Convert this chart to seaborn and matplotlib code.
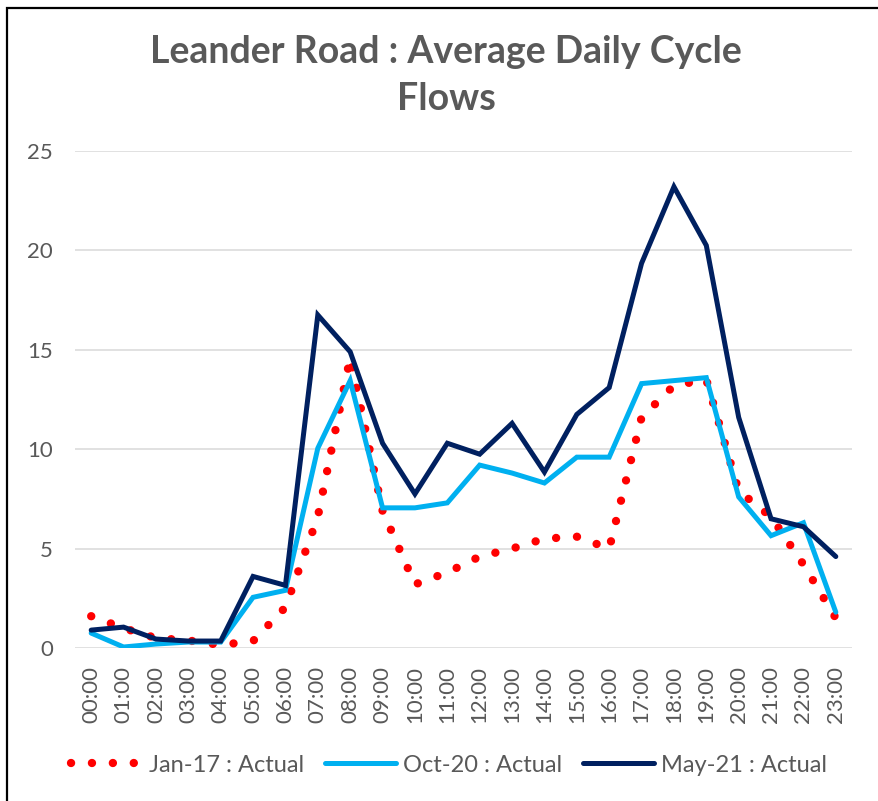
import matplotlib
matplotlib.use("Agg")
import matplotlib.pyplot as plt
from matplotlib.patches import Rectangle
import numpy as np
import pandas as pd
import seaborn as sns

hours = [f"{h:02d}:00" for h in range(24)]

jan17 = [1.6, 1.0, 0.5, 0.38, 0.15, 0.35, 2.05, 6.6, 14.6, 6.9, 3.2, 3.8,
         4.6, 5.0, 5.5, 5.6, 5.0, 11.6, 13.2, 13.5, 7.9, 6.6, 4.2, 1.5]
oct20 = [0.75, 0.05, 0.2, 0.3, 0.3, 2.55, 2.9, 10.05, 13.45, 7.05, 7.05, 7.3,
         9.2, 8.8, 8.3, 9.6, 9.6, 13.3, 13.45, 13.6, 7.6, 5.65, 6.3, 1.8]
may21 = [0.9, 1.05, 0.45, 0.35, 0.35, 3.6, 3.15, 16.75, 14.9, 10.3, 7.75, 10.3,
         9.75, 11.3, 8.85, 11.75, 13.1, 19.35, 23.2, 20.25, 11.6, 6.5, 6.1, 4.6]

series_names = ["Jan-17 : Actual", "Oct-20 : Actual", "May-21 : Actual"]
y_ticks = [0, 5, 10, 15, 20, 25]

sns.set_theme(style="white")
plt.rcParams["font.family"] = ["Lato", "DejaVu Sans"]

text_grey = "#595959"
grid_grey = "#D9D9D9"

fig = plt.figure(figsize=(8.79, 8.01), dpi=100)
ax = fig.add_axes([75 / 879, 1 - 648 / 801, (852 - 75) / 879, (648 - 151) / 801])

df = pd.DataFrame({"hour": hours, "jan17": jan17, "oct20": oct20, "may21": may21})
x = np.arange(len(hours))

sns.lineplot(x=x, y=df["jan17"], ax=ax, color="#FF0000", linewidth=6,
             linestyle=(0, (0.01, 2.5)), dash_capstyle="round",
             label=series_names[0])
sns.lineplot(x=x, y=df["oct20"], ax=ax, color="#00B0F0", linewidth=3.6,
             solid_joinstyle="miter", label=series_names[1])
sns.lineplot(x=x, y=df["may21"], ax=ax, color="#002060", linewidth=3.6,
             solid_joinstyle="miter", label=series_names[2])

ax.set_xlim(-0.5, len(hours) - 0.5)
ax.set_ylim(0, 25)
ax.set_yticks(y_ticks)
ax.set_yticklabels([str(v) for v in y_ticks])
ax.set_xticks(x)
ax.set_xticklabels(hours, rotation=90)
ax.set_xlabel("")
ax.set_ylabel("")
ax.tick_params(axis="y", length=0, pad=16, labelsize=16, labelcolor=text_grey)
ax.tick_params(axis="x", length=0, pad=13, labelsize=16, labelcolor=text_grey)
ax.grid(axis="y", color=grid_grey, linewidth=1.1)
ax.set_axisbelow(True)
for s in ax.spines.values():
    s.set_visible(False)

handles, labels = ax.get_legend_handles_labels()
ax.get_legend().remove()
fig.legend(handles, labels, loc="center", bbox_to_anchor=(449 / 879, 1 - 765 / 801),
           ncol=3, frameon=False, fontsize=17, labelcolor=text_grey,
           handlelength=3.0, handletextpad=0.3, columnspacing=0.9)

fig.text(446 / 879, 1 - 35 / 801, "Leander Road : Average Daily Cycle\nFlows",
         ha="center", va="top", fontsize=27, fontweight="bold", color=text_grey,
         linespacing=1.45)

fig.patches.append(Rectangle((7 / 879, -0.01), 1.0, 1 - 8 / 801 + 0.01,
                             transform=fig.transFigure, fill=False,
                             edgecolor="black", linewidth=1.6))

fig.savefig("out.png", dpi=100)
